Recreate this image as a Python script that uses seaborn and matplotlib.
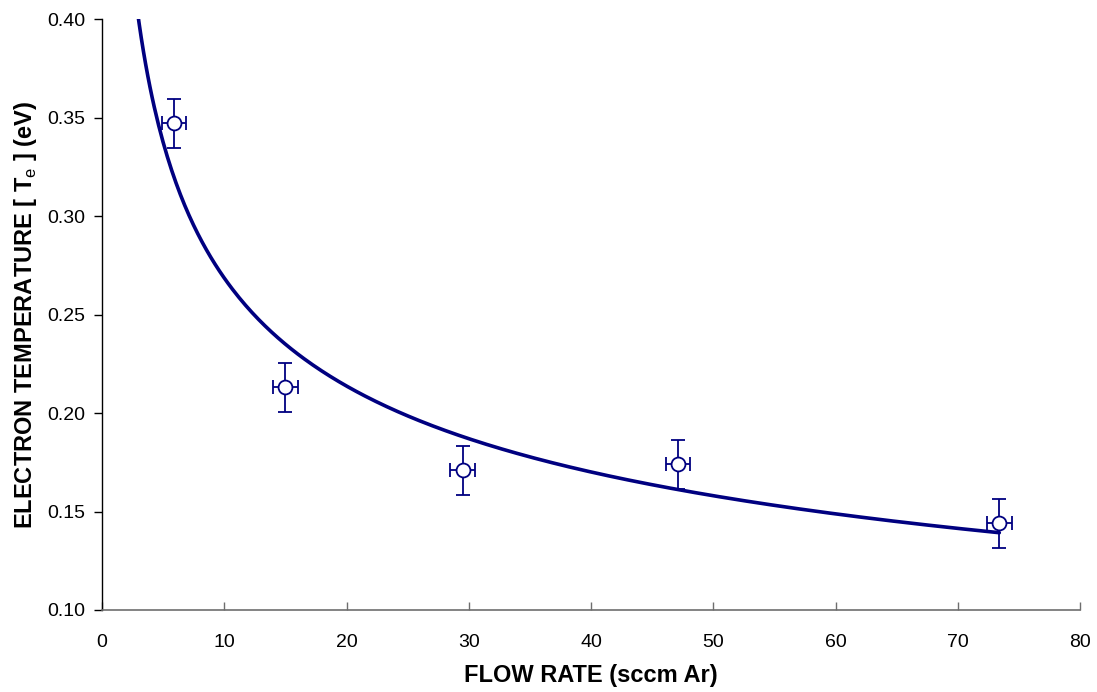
import numpy as np
import pandas as pd
import matplotlib
matplotlib.use("Agg")
import matplotlib.pyplot as plt
import seaborn as sns

# Data
flow_rate = [5.9, 15.0, 29.5, 47.1, 73.4]
electron_temp = [0.347, 0.213, 0.171, 0.174, 0.144]
x_err = [1.0, 1.0, 1.0, 1.0, 1.0]
y_err = [0.0125, 0.0125, 0.0125, 0.0125, 0.0125]
x_ticks = [0, 10, 20, 30, 40, 50, 60, 70, 80]
y_ticks = [0.10, 0.15, 0.20, 0.25, 0.30, 0.35, 0.40]

sns.set_theme(style="white")
plt.rcParams['font.family'] = ['Liberation Sans', 'DejaVu Sans']
plt.rcParams['text.color'] = 'black'
plt.rcParams['axes.labelcolor'] = 'black'
plt.rcParams['xtick.color'] = 'black'
plt.rcParams['ytick.color'] = 'black'
plt.rcParams['mathtext.fontset'] = 'custom'
plt.rcParams['mathtext.rm'] = 'Liberation Sans'

navy = "#000080"

fig = plt.figure(figsize=(10.97, 6.92), dpi=100)
ax = fig.add_axes([0.093, 0.1185, 0.8915, 0.854])

# Power-law trend line fitted to the data (like a spreadsheet trendline)
b, loga = np.polyfit(np.log(flow_rate), np.log(electron_temp), 1)
xs = np.linspace(2.5, max(flow_rate), 400)
fit_df = pd.DataFrame({"x": xs, "y": np.exp(loga) * xs ** b})
sns.lineplot(data=fit_df, x="x", y="y", ax=ax, color=navy, linewidth=2.6, zorder=3)

ax.errorbar(flow_rate, electron_temp, xerr=x_err, yerr=y_err, fmt='o',
            color=navy, ecolor=navy, elinewidth=1.3, capsize=5, capthick=1.3,
            markersize=10, markerfacecolor='white', markeredgecolor=navy,
            markeredgewidth=1.3, zorder=4)

ax.set_xlim(0, 80)
ax.set_ylim(0.10, 0.40)
ax.set_xticks(x_ticks)
ax.set_yticks(y_ticks)
ax.set_xticklabels([str(t) for t in x_ticks])
ax.set_yticklabels([f"{t:.2f}" for t in y_ticks])

for s in ["top", "right"]:
    ax.spines[s].set_visible(False)
ax.spines["left"].set_color("black")
ax.spines["left"].set_linewidth(1.0)
ax.spines["bottom"].set_color("#6e6e6e")
ax.spines["bottom"].set_linewidth(1.2)

ax.tick_params(axis='x', direction='in', length=6, width=1, color='#6e6e6e',
               labelcolor='black', labelsize=14, pad=17, bottom=True)
ax.tick_params(axis='y', direction='out', length=6, width=1, color='black',
               labelcolor='black', labelsize=14, pad=6, left=True)

ax.set_xlabel("FLOW RATE (sccm Ar)", fontsize=17, fontweight='bold', labelpad=10,
              color='black')
ax.set_ylabel("ELECTRON TEMPERATURE [ T$_\\mathrm{e}$ ] (eV)", fontsize=17,
              fontweight='bold', labelpad=6, color='black')
ax.grid(False)

fig.savefig("out.png", dpi=100)
